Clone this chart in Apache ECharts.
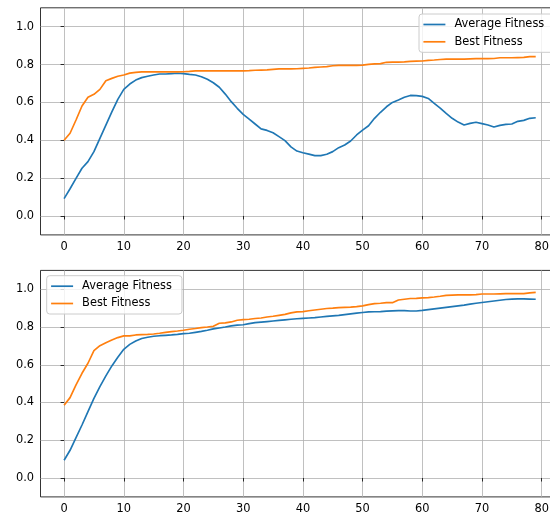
<!DOCTYPE html>
<html>
<head>
<meta charset="utf-8">
<script src="https://cdn.jsdelivr.net/npm/echarts@6/dist/echarts.min.js"></script>
<style>
  html, body { margin: 0; padding: 0; background: #fff; }
  #chart { width: 550px; height: 516px; }
</style>
</head>
<body>
<div id="chart"></div>
<script>
// Generations 0..79
const generations = Array.from({ length: 80 }, (_, i) => i);

// Run 1
const avgRun1 = [
  0.092, 0.144, 0.199, 0.252, 0.287, 0.340, 0.410, 0.480, 0.550, 0.616,
  0.669, 0.697, 0.718, 0.731, 0.738, 0.745, 0.750, 0.750, 0.752, 0.754,
  0.752, 0.748, 0.745, 0.736, 0.722, 0.704, 0.680, 0.644, 0.604, 0.569,
  0.537, 0.512, 0.486, 0.460, 0.452, 0.440, 0.419, 0.398, 0.365, 0.343,
  0.334, 0.327, 0.319, 0.319, 0.326, 0.340, 0.361, 0.375, 0.396, 0.428,
  0.454, 0.477, 0.516, 0.548, 0.577, 0.600, 0.613, 0.627, 0.637, 0.636,
  0.632, 0.621, 0.595, 0.570, 0.542, 0.516, 0.496, 0.481, 0.489, 0.495,
  0.488, 0.481, 0.470, 0.479, 0.484, 0.486, 0.500, 0.505, 0.516, 0.519
];
const bestRun1 = [
  0.400, 0.437, 0.507, 0.581, 0.627, 0.643, 0.669, 0.715, 0.727, 0.738,
  0.745, 0.755, 0.759, 0.761, 0.761, 0.761, 0.761, 0.761, 0.761, 0.761,
  0.762, 0.764, 0.767, 0.767, 0.767, 0.767, 0.767, 0.767, 0.767, 0.767,
  0.767, 0.768, 0.770, 0.771, 0.772, 0.775, 0.777, 0.777, 0.777, 0.778,
  0.780, 0.782, 0.785, 0.787, 0.789, 0.794, 0.796, 0.796, 0.796, 0.796,
  0.797, 0.801, 0.804, 0.805, 0.812, 0.813, 0.813, 0.814, 0.817, 0.818,
  0.819, 0.822, 0.824, 0.827, 0.829, 0.829, 0.829, 0.829, 0.830, 0.831,
  0.831, 0.831, 0.832, 0.836, 0.836, 0.836, 0.837, 0.838, 0.842, 0.842
];

// Run 2
const avgRun2 = [
  0.094, 0.147, 0.214, 0.281, 0.352, 0.422, 0.484, 0.541, 0.594, 0.640,
  0.682, 0.708, 0.726, 0.739, 0.746, 0.751, 0.754, 0.756, 0.758, 0.761,
  0.765, 0.767, 0.772, 0.777, 0.783, 0.790, 0.795, 0.800, 0.806, 0.810,
  0.812, 0.818, 0.823, 0.826, 0.829, 0.832, 0.835, 0.838, 0.841, 0.844,
  0.846, 0.848, 0.850, 0.853, 0.856, 0.859, 0.862, 0.866, 0.870, 0.874,
  0.877, 0.880, 0.881, 0.882, 0.884, 0.886, 0.887, 0.887, 0.885, 0.885,
  0.888, 0.892, 0.896, 0.900, 0.904, 0.908, 0.912, 0.916, 0.921, 0.926,
  0.930, 0.934, 0.938, 0.942, 0.946, 0.948, 0.949, 0.949, 0.948, 0.947
];
const bestRun2 = [
  0.385, 0.426, 0.493, 0.555, 0.608, 0.675, 0.701, 0.717, 0.731, 0.744,
  0.753, 0.753, 0.758, 0.760, 0.761, 0.763, 0.767, 0.772, 0.776, 0.779,
  0.783, 0.788, 0.792, 0.797, 0.800, 0.804, 0.820, 0.822, 0.827, 0.836,
  0.839, 0.841, 0.845, 0.848, 0.853, 0.857, 0.862, 0.867, 0.875, 0.880,
  0.882, 0.886, 0.890, 0.894, 0.898, 0.900, 0.903, 0.904, 0.905, 0.908,
  0.912, 0.919, 0.924, 0.926, 0.929, 0.929, 0.943, 0.947, 0.951, 0.952,
  0.954, 0.956, 0.959, 0.963, 0.968, 0.969, 0.970, 0.970, 0.970, 0.972,
  0.975, 0.975, 0.975, 0.976, 0.977, 0.977, 0.977, 0.977, 0.981, 0.984
];

// Tick positions
const xTicks = [0, 10, 20, 30, 40, 50, 60, 70, 80];
const yTicks = [0.0, 0.2, 0.4, 0.6, 0.8, 1.0];

const seriesNames = ['Average Fitness', 'Best Fitness'];
const colors = ['#1f77b4', '#ff7f0e'];

const FONT = 'DejaVu Sans';
const FS = 11.4;

function pairs(ys) { return generations.map((g, i) => [g, ys[i]]); }

function xAxisFor(gridIndex) {
  return {
    type: 'value', gridIndex,
    min: -3.95, max: 82.95,
    axisLine: { show: false },
    axisTick: { show: true, length: 3.5, customValues: xTicks, lineStyle: { color: '#000', width: 0.8 } },
    axisLabel: { customValues: xTicks, margin: 6.5, color: '#000', fontFamily: FONT, fontSize: FS },
    splitLine: { show: true, lineStyle: { color: '#b0b0b0', width: 0.8 } }
  };
}
function yAxisFor(gridIndex) {
  return {
    type: 'value', gridIndex,
    min: -0.1, max: 1.1,
    axisLine: { show: false },
    axisTick: { show: true, length: 3.5, customValues: yTicks, lineStyle: { color: '#000', width: 0.8 } },
    axisLabel: { customValues: yTicks, margin: 6.5, color: '#000', fontFamily: FONT, fontSize: FS,
      formatter: v => v.toFixed(1) },
    splitLine: { show: true, lineStyle: { color: '#b0b0b0', width: 0.8 } }
  };
}
function lineSeries(name, color, data, idx) {
  return {
    type: 'line', name, data: pairs(data),
    xAxisIndex: idx, yAxisIndex: idx,
    showSymbol: false, symbol: 'none', animation: false,
    lineStyle: { color, width: 1.67 }, itemStyle: { color },
    z: 3
  };
}
function legendAt(left, top) {
  return {
    orient: 'vertical', left, top,
    data: seriesNames.map(n => ({ name: n, icon: 'rect' })),
    itemWidth: 22, itemHeight: 1.7, itemGap: 5.3,
    padding: [4.5, 10, 4.5, 4.4],
    backgroundColor: 'rgba(255,255,255,0.8)',
    borderColor: '#cccccc', borderWidth: 1, borderRadius: 3,
    selectedMode: false,
    textStyle: { fontFamily: FONT, fontSize: FS, color: '#000', lineHeight: 12, padding: [0, 0, 0, 4] }
  };
}

function gridAt(top, height) {
  return {
    left: 40.5, top, width: 518.8, height,
    outerBoundsMode: 'none', containLabel: false,
    show: true, borderColor: '#000', borderWidth: 0.8, backgroundColor: 'transparent'
  };
}

const chart = echarts.init(document.getElementById('chart'), null, { renderer: 'canvas' });
chart.setOption({
  animation: false,
  backgroundColor: '#fff',
  grid: [gridAt(7.8, 227.1), gridAt(270.4, 226.5)],
  xAxis: [xAxisFor(0), xAxisFor(1)],
  yAxis: [yAxisFor(0), yAxisFor(1)],
  legend: [legendAt(419, 14), legendAt(46.7, 275.7)],
  series: [
    lineSeries(seriesNames[0], colors[0], avgRun1, 0),
    lineSeries(seriesNames[1], colors[1], bestRun1, 0),
    lineSeries(seriesNames[0], colors[0], avgRun2, 1),
    lineSeries(seriesNames[1], colors[1], bestRun2, 1)
  ]
});
</script>
</body>
</html>
